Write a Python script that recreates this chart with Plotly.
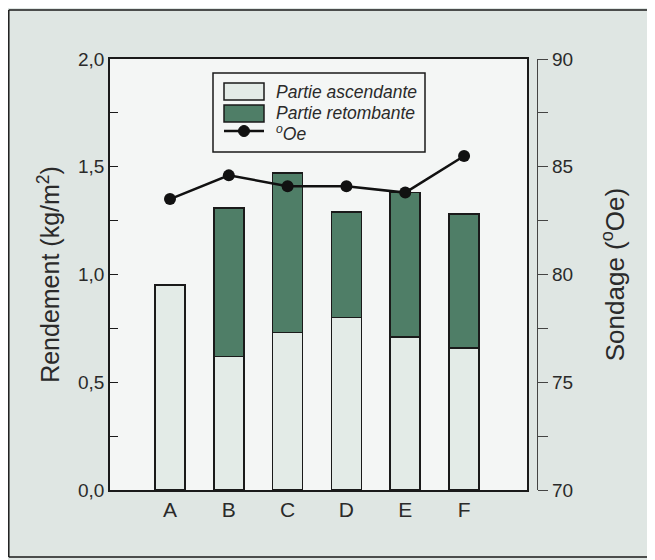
import plotly.graph_objects as go

categories = ["A", "B", "C", "D", "E", "F"]
ascendante = [0.95, 0.62, 0.73, 0.80, 0.71, 0.66]
retombante = [None, 0.69, 0.74, 0.49, 0.67, 0.62]
sondage = [83.5, 84.6, 84.1, 84.1, 83.8, 85.5]
legend_labels = ["Partie ascendante", "Partie retombante", "<sup>o</sup>Oe"]

# the page's default body margin shifts the figure by 8 px, so size it to fit
OFF = 8
W, H = 655 - OFF, 560 - OFF
L = 110 - OFF
T = 59 - OFF
B = H - (490 - OFF)
R = W - (537 - OFF)
plot_w = W - L - R
plot_h = H - T - B
x_dom_end = (527 - 110) / plot_w

LIGHT = "#e3ebe7"
GREEN = "#4f7e67"
INK = "#1a1a1a"
TXT = "#2a2a2a"


def px(xp):
    return (xp - OFF - L) / plot_w


def py(yp):
    return (H - B - (yp - OFF)) / plot_h


fig = go.Figure()
fig.add_trace(go.Bar(
    x=categories, y=ascendante, name=legend_labels[0],
    marker=dict(color=LIGHT, line=dict(color=INK, width=1.6)),
    width=0.51, showlegend=False,
))
fig.add_trace(go.Bar(
    x=categories, y=retombante, name=legend_labels[1],
    marker=dict(color=GREEN, line=dict(color=INK, width=1.6)),
    width=0.51, showlegend=False,
))
fig.add_trace(go.Scatter(
    x=categories, y=sondage, name=legend_labels[2], yaxis="y2",
    mode="lines+markers",
    line=dict(color="#111111", width=2.5),
    marker=dict(color="#111111", size=12),
    showlegend=False,
))

font_fam = "Liberation Sans, Arial, sans-serif"
frame = dict(color=INK, width=1.5)

shapes = [
    dict(type="rect", xref="x domain", yref="y domain", x0=0, x1=1, y0=0, y1=1,
         fillcolor="#f4f6f5", line=dict(width=0), layer="below"),
    # outer frame (top, left, bottom; right edge lies beyond the page)
    dict(type="line", xref="paper", yref="paper", x0=px(8.8), x1=px(700), y0=py(10), y1=py(10),
         line=frame, layer="below"),
    dict(type="line", xref="paper", yref="paper", x0=px(8.8), x1=px(8.8), y0=py(10), y1=py(557),
         line=frame, layer="below"),
    dict(type="line", xref="paper", yref="paper", x0=px(8.8), x1=px(700), y0=py(557), y1=py(557),
         line=frame, layer="below"),
    # legend box
    dict(type="rect", xref="paper", yref="paper",
         x0=px(213), x1=px(425), y0=py(152), y1=py(73),
         line=dict(color=INK, width=1.5), fillcolor="#f4f6f5", layer="above"),
    dict(type="rect", xref="paper", yref="paper",
         x0=px(224), x1=px(264), y0=py(100), y1=py(83),
         line=dict(color=INK, width=1.5), fillcolor=LIGHT, layer="above"),
    dict(type="rect", xref="paper", yref="paper",
         x0=px(224), x1=px(264), y0=py(122), y1=py(105),
         line=dict(color=INK, width=1.5), fillcolor=GREEN, layer="above"),
    dict(type="line", xref="paper", yref="paper",
         x0=px(224), x1=px(264), y0=py(131), y1=py(131),
         line=dict(color="#111111", width=2.5), layer="above"),
    dict(type="circle", xref="paper", yref="paper",
         x0=px(238.5), x1=px(249.5), y0=py(136.5), y1=py(125.5),
         line=dict(color="#111111", width=1), fillcolor="#111111", layer="above"),
]

annotations = []
for lbl, yc in zip(legend_labels, [92, 113, 133]):
    annotations.append(dict(
        text="<i>" + lbl + "</i>", xref="paper", yref="paper",
        x=px(274), y=py(yc), xanchor="left", yanchor="middle", showarrow=False,
        font=dict(size=17.5, family=font_fam, color=TXT),
    ))

fig.update_layout(
    width=W, height=H,
    margin=dict(l=L, r=R, t=T, b=B, autoexpand=False),
    barmode="stack",
    separators=", ",
    paper_bgcolor="#dfe6e3",
    plot_bgcolor="#dfe6e3",
    font=dict(family=font_fam, color=TXT),
    showlegend=False,
    xaxis=dict(
        domain=[0, x_dom_end],
        range=[-1.02, 6.07],
        showline=True, linecolor=INK, linewidth=1.5, mirror=True,
        ticks="", showgrid=False, zeroline=False, automargin=False,
        tickfont=dict(size=21, color=TXT),
    ),
    yaxis=dict(
        range=[0, 2.0],
        tickvals=[0, 0.5, 1.0, 1.5, 2.0],
        tickformat=".1f",
        ticks="inside", ticklen=8, tickcolor=INK, tickwidth=1.2,
        minor=dict(dtick=0.25, ticks="inside", ticklen=8, tickcolor=INK, tickwidth=1.2, showgrid=False),
        showline=True, linecolor=INK, linewidth=1.5, mirror=True,
        showgrid=False, zeroline=False, automargin=False,
        tickfont=dict(size=19, color=TXT),
        title=dict(text="Rendement (kg/m<sup>2</sup>)", font=dict(size=25, color=TXT), standoff=11),
    ),
    yaxis2=dict(
        overlaying="y", anchor="free", position=1.0, side="right",
        range=[70, 90],
        tickvals=[70, 75, 80, 85, 90],
        ticks="outside", ticklen=10, tickcolor="#444444", tickwidth=1.2,
        minor=dict(dtick=2.5, ticks="outside", ticklen=10, tickcolor="#444444", tickwidth=1.2, showgrid=False),
        showline=True, linecolor="#444444", linewidth=1.2,
        showgrid=False, zeroline=False, automargin=False,
        tickfont=dict(size=19, color=TXT),
        title=dict(text="Sondage (<sup>o</sup>Oe)", font=dict(size=26, color=TXT), standoff=33),
    ),
    shapes=shapes,
    annotations=annotations,
)

fig.write_html("out.html")
